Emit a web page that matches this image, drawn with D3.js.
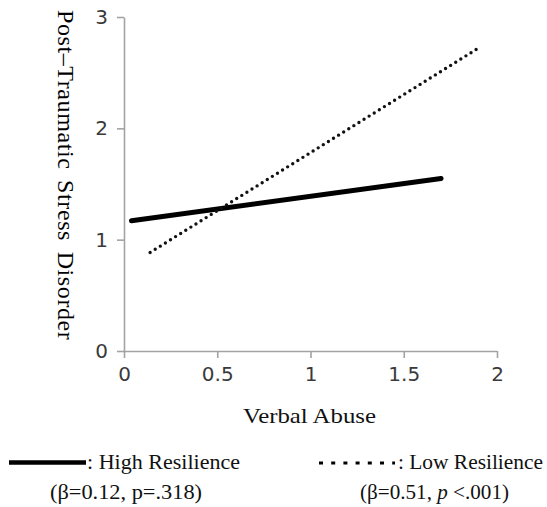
<!DOCTYPE html>
<html>
<head>
<meta charset="utf-8">
<script src="https://cdn.jsdelivr.net/npm/d3@7"></script>
<style>
  html, body { margin: 0; padding: 0; background: #fff; }
  svg { display: block; }
</style>
</head>
<body>
<svg id="chart" width="547" height="507"></svg>
<script>
// ---- data ----
const xTicks = [0, 0.5, 1, 1.5, 2];
const xTickLabels = ["0", "0.5", "1", "1.5", "2"];
const yTicks = [0, 1, 2, 3];
const yTickLabels = ["0", "1", "2", "3"];
const highX = [0.04, 1.70];
const highY = [1.17, 1.55];
const lowX = [0.14, 1.89];
const lowY = [0.885, 2.71];
const seriesNames = [": High Resilience", ": Low Resilience"];
const seriesStats = ["(β=0.12, p=.318)", "(β=0.51, ", "p", " <.001)"];
const xTitle = "Verbal Abuse";
const yTitle = "Post–Traumatic Stress Disorder";

const svg = d3.select("#chart");
const x = d3.scaleLinear().domain([0, 2]).range([124, 497]);
const y = d3.scaleLinear().domain([0, 3]).range([351, 17]);

const axisColor = "#a3a3a3";
const tickFont = '"DejaVu Sans", sans-serif';
const serif = '"Liberation Serif", serif';

// x axis
const gx = svg.append("g").attr("transform", `translate(0,${y(0)})`)
  .call(d3.axisBottom(x).tickValues(xTicks).tickFormat((d, i) => xTickLabels[i])
    .tickSize(7).tickPadding(9).tickSizeOuter(0));
// y axis
const gy = svg.append("g").attr("transform", `translate(${x(0)},0)`)
  .call(d3.axisLeft(y).tickValues(yTicks).tickFormat((d, i) => yTickLabels[i])
    .tickSize(7).tickPadding(9).tickSizeOuter(0));

[gx, gy].forEach(g => {
  g.select(".domain").attr("stroke", axisColor).attr("stroke-width", 1.6);
  g.selectAll(".tick line").attr("stroke", axisColor).attr("stroke-width", 1.6);
  g.selectAll(".tick text").attr("fill", "#3a3a3a")
    .style("font-family", tickFont).style("font-size", "20px");
});

// lines
const line = d3.line().x(d => x(d[0])).y(d => y(d[1]));
svg.append("path")
  .datum(highX.map((v, i) => [v, highY[i]]))
  .attr("d", line).attr("fill", "none").attr("stroke", "#000")
  .attr("stroke-width", 5).attr("stroke-linecap", "round");
svg.append("path")
  .datum(lowX.map((v, i) => [v, lowY[i]]))
  .attr("d", line).attr("fill", "none").attr("stroke", "#111")
  .attr("stroke-width", 3.4).attr("stroke-linecap", "round")
  .attr("stroke-dasharray", "0,6");

// axis titles
svg.append("text").attr("x", 243).attr("y", 423)
  .attr("textLength", 133).attr("lengthAdjust", "spacingAndGlyphs")
  .style("font-family", serif).style("font-size", "21px").attr("fill", "#111")
  .text(xTitle);
svg.append("text")
  .attr("transform", "translate(58,10) rotate(90)")
  .attr("x", 0).attr("y", 0)
  .style("font-family", serif).style("font-size", "24px")
  .style("letter-spacing", "0.6px").style("word-spacing", "4px")
  .attr("fill", "#000")
  .text(yTitle);

// legend
svg.append("line").attr("x1", 9).attr("x2", 86).attr("y1", 462.5).attr("y2", 462.5)
  .attr("stroke", "#000").attr("stroke-width", 4.5);
svg.append("text").attr("x", 87).attr("y", 468.5)
  .attr("textLength", 153).attr("lengthAdjust", "spacingAndGlyphs")
  .style("font-family", serif).style("font-size", "21px").attr("fill", "#111")
  .text(seriesNames[0]);
svg.append("text").attr("x", 50).attr("y", 499)
  .attr("textLength", 152).attr("lengthAdjust", "spacingAndGlyphs")
  .style("font-family", serif).style("font-size", "21px").attr("fill", "#111")
  .text(seriesStats[0]);

svg.append("line").attr("x1", 319).attr("x2", 395).attr("y1", 463).attr("y2", 463)
  .attr("stroke", "#000").attr("stroke-width", 3)
  .attr("stroke-dasharray", "4,8.2");
svg.append("text").attr("x", 398).attr("y", 468.5)
  .attr("textLength", 145).attr("lengthAdjust", "spacingAndGlyphs")
  .style("font-family", serif).style("font-size", "21px").attr("fill", "#111")
  .text(seriesNames[1]);
const t2 = svg.append("text").attr("x", 360).attr("y", 499)
  .attr("textLength", 149).attr("lengthAdjust", "spacingAndGlyphs")
  .style("font-family", serif).style("font-size", "21px").attr("fill", "#111");
t2.append("tspan").text(seriesStats[1]);
t2.append("tspan").style("font-style", "italic").text(seriesStats[2]);
t2.append("tspan").text(seriesStats[3]);
</script>
</body>
</html>
